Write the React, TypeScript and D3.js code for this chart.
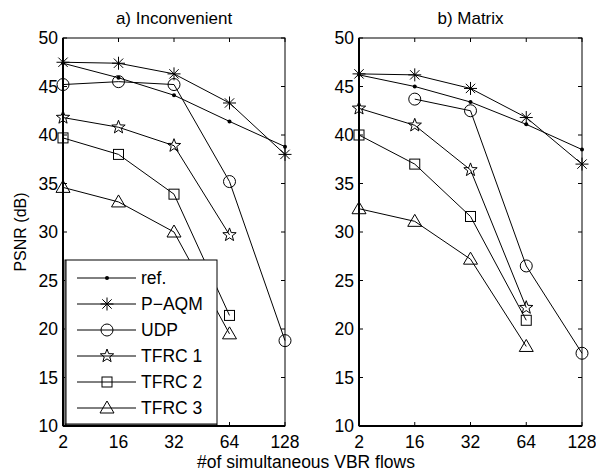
import * as d3 from "d3";

const flows = ["2", "16", "32", "64", "128"];
const yTicks = [10, 15, 20, 25, 30, 35, 40, 45, 50];
const seriesNames = ["ref.", "P\u2212AQM", "UDP", "TFRC 1", "TFRC 2", "TFRC 3"];
const markers = ["dot", "asterisk", "circle", "star", "square", "triangle"];

// a) Inconvenient
const incRef = [47.4, 45.9, 44.1, 41.4, 38.8];
const incPaqm = [47.5, 47.4, 46.3, 43.3, 38.0];
const incUdp = [45.2, 45.5, 45.2, 35.2, 18.8];
const incTfrc1 = [41.8, 40.8, 38.9, 29.7, null];
const incTfrc2 = [39.7, 38.0, 33.9, 21.4, null];
const incTfrc3 = [34.6, 33.1, 30.0, 19.5, null];

// b) Matrix
const matRef = [46.2, 45.0, 43.4, 41.1, 38.5];
const matPaqm = [46.3, 46.2, 44.8, 41.8, 37.0];
const matUdp = [null, 43.7, 42.5, 26.5, 17.5];
const matTfrc1 = [42.75, 41.0, 36.4, 22.2, null];
const matTfrc2 = [40.0, 37.0, 31.6, 20.9, null];
const matTfrc3 = [32.4, 31.1, 27.2, 18.2, null];

const panels = [
  { title: "a) Inconvenient", x0: 63, x1: 285, series: [incRef, incPaqm, incUdp, incTfrc1, incTfrc2, incTfrc3] },
  { title: "b) Matrix", x0: 359, x1: 582, series: [matRef, matPaqm, matUdp, matTfrc1, matTfrc2, matTfrc3] },
];

const yTop = 38;
const yBottom = 426;
const font = "'Liberation Sans', Arial, Helvetica, sans-serif";

function Marker({ type, x, y }: { type: string; x: number; y: number }) {
  const s = { fill: "none", stroke: "#000", strokeWidth: 1 };
  if (type === "dot") return <circle cx={x} cy={y} r={2} fill="#000" />;
  if (type === "circle") return <circle cx={x} cy={y} r={6} fill="none" stroke="#000" strokeWidth={1} />;
  if (type === "square") return <rect x={x - 5} y={y - 5} width={10} height={10} {...s} />;
  if (type === "triangle") {
    const pts = [[x, y - 7], [x + 7, y + 5], [x - 7, y + 5]];
    return <polygon points={pts.map((p) => p.join(",")).join(" ")} {...s} />;
  }
  if (type === "asterisk") {
    const r = 6.5;
    const d = r * 0.72;
    return (
      <path
        d={`M${x - r},${y}H${x + r}M${x},${y - r}V${y + r}M${x - d},${y - d}L${x + d},${y + d}M${x - d},${y + d}L${x + d},${y - d}`}
        {...s}
      />
    );
  }
  // pentagram
  const pts: string[] = [];
  for (let i = 0; i < 10; i++) {
    const r = i % 2 === 0 ? 7 : 2.9;
    const a = -Math.PI / 2 + (i * Math.PI) / 5;
    pts.push(`${x + r * Math.cos(a)},${y + r * Math.sin(a)}`);
  }
  return <polygon points={pts.join(" ")} {...s} />;
}

function Panel({ p, showLegend }: { p: (typeof panels)[0]; showLegend: boolean }) {
  const x = d3.scalePoint<string>().domain(flows).range([p.x0, p.x1]);
  const y = d3.scaleLinear().domain([10, 50]).range([yBottom, yTop]);
  const line = d3
    .line<number | null>()
    .defined((d) => d !== null)
    .x((_, i) => x(flows[i])!)
    .y((d) => y(d as number));
  const tl = 4;
  return (
    <g>
      <text x={(p.x0 + p.x1) / 2} y={24} textAnchor="middle" fontSize={17}>
        {p.title}
      </text>
      {p.series.map((vals, si) => (
        <g key={si}>
          <path d={line(vals) || ""} fill="none" stroke="#000" strokeWidth={1} />
          {vals.map((v, i) =>
            v === null ? null : <Marker key={i} type={markers[si]} x={x(flows[i])!} y={y(v)} />
          )}
        </g>
      ))}
      {/* box and ticks */}
      <rect x={p.x0} y={yTop} width={p.x1 - p.x0} height={yBottom - yTop} fill="none" stroke="#000" strokeWidth={1} />
      <line x1={p.x0} x2={p.x0} y1={yTop} y2={yBottom} stroke="#000" strokeWidth={2} />
      <line x1={p.x0} x2={p.x1} y1={yBottom} y2={yBottom} stroke="#000" strokeWidth={2} />
      {yTicks.map((t) => (
        <g key={t}>
          <line x1={p.x0} x2={p.x0 + tl} y1={y(t)} y2={y(t)} stroke="#000" />
          <line x1={p.x1} x2={p.x1 - tl} y1={y(t)} y2={y(t)} stroke="#000" />
          <text x={p.x0 - 5} y={y(t) + 6} textAnchor="end" fontSize={17.5}>
            {t}
          </text>
        </g>
      ))}
      {flows.map((f) => (
        <g key={f}>
          <line x1={x(f)} x2={x(f)} y1={yBottom} y2={yBottom - tl} stroke="#000" />
          <line x1={x(f)} x2={x(f)} y1={yTop} y2={yTop + tl} stroke="#000" />
          <text x={x(f)} y={yBottom + 22} textAnchor="middle" fontSize={17.5}>
            {f}
          </text>
        </g>
      ))}
      {showLegend && (
        <g>
          <rect x={65} y={260} width={152} height={165} fill="#fff" stroke="#000" strokeWidth={1} />
          <line x1={66} x2={66} y1={260} y2={425} stroke="#000" strokeWidth={1} />
          <line x1={65} x2={217} y1={424} y2={424} stroke="#000" strokeWidth={1} />
          {seriesNames.map((name, i) => {
            const ly = 278 + i * 26;
            return (
              <g key={name}>
                <line x1={77} x2={136} y1={ly} y2={ly} stroke="#000" />
                <Marker type={markers[i]} x={107} y={ly} />
                <text x={141} y={ly + 6} fontSize={17.5}>
                  {name}
                </text>
              </g>
            );
          })}
        </g>
      )}
    </g>
  );
}

export default function App() {
  return (
    <svg width={596} height={473} style={{ position: "absolute", left: 0, top: 0, background: "#fff" }} fontFamily={font}>
      <rect width={596} height={473} fill="#fff" />
      {panels.map((p, i) => (
        <Panel key={p.title} p={p} showLegend={i === 0} />
      ))}
      <text transform="translate(26,232) rotate(-90)" textAnchor="middle" fontSize={16}>
        PSNR (dB)
      </text>
      <text x={306} y={468} textAnchor="middle" fontSize={17.5}>
        #of simultaneous VBR flows
      </text>
    </svg>
  );
}
